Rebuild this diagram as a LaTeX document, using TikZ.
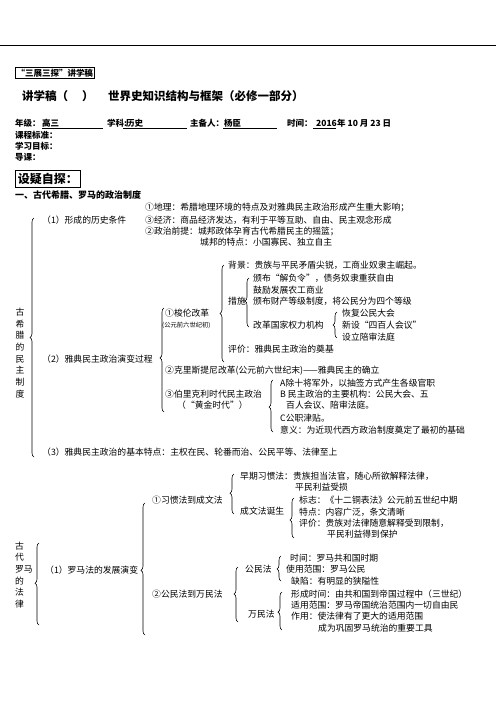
\documentclass[tikz,border=0pt]{standalone}
\usepackage{fontspec}
\setmainfont{Noto Sans CJK SC}
\usetikzlibrary{decorations.pathreplacing}

\newcommand\bodyf{\fontsize{8.8}{11.7}\selectfont}
\newcommand\smallf{\fontsize{6.3}{7}\selectfont}

\begin{document}
\begin{tikzpicture}
    [x=1pt,y=-1pt,%
      every node/.style={anchor=west,inner sep=0pt,font=\bodyf},%
      hd/.style={font=\fontsize{#1}{#1}\selectfont\bfseries},%
      lbrace/.style={decorate,decoration={brace,amplitude=4pt,aspect=#1},line width=0.6pt},%
      uline/.style={line width=0.5pt}]
    \fill[white] (0,0) rectangle (496,702);
    \useasboundingbox (0,0) rectangle (496,702);
    \draw[line width=0.8pt] (0,45) -- (496,45);

    % header
    \node[hd=8.5,draw,inner sep=1.2pt,line width=0.6pt] (tag) at (15,73) {“三展三探”讲学稿};
    \node[hd=11.5] (ttla) at (22,96) {讲学稿（};
    \node[hd=11.5] (ttlb) at (82,96) {）};
    \node[hd=11.5] (ttlc) at (108,96) {世界史知识结构与框架（必修一部分）};
    \node[hd=8.5] (grd) at (15,123) {年级：};
    \node[hd=8.5] (grdv) at (42,123) {高三};
    \node[hd=8.5] (subj) at (107,123) {学科:};
    \node[hd=8.5] (subjv) at (126,123) {历史};
    \node[hd=8.5] (auth) at (190,123) {主备人：};
    \node[hd=8.5] (authv) at (224,123) {杨臣};
    \node[hd=8.5] (date) at (287,123) {时间：};
    \node[hd=8.5] (yr) at (316,123) {2016};
    \node[hd=8.5] (ymd) at (337,123) {年 10 月 23 日};
    \draw[uline] (42,128) -- (103,128);
    \draw[uline] (123,128) -- (187,128);
    \draw[uline] (223,128) -- (277,128);
    \draw[uline] (313,128) -- (336,128);
    \node[hd=8.5] (std) at (15,135) {课程标准：};
    \node[hd=8.5] (goal) at (15,146) {学习目标：};
    \node[hd=8.5] (intro) at (15,157) {导课：};
    \node[hd=12,draw,inner sep=2.5pt,line width=0.7pt] (qbox) at (15,179) {设疑自探：};
    \node[hd=9] (sec) at (15,195) {一、古代希腊、罗马的政治制度};

    % greece
    \node[anchor=center,align=center] (grk) at (20,353) {古\\希\\腊\\的\\民\\主\\制\\度};
    \node (cnda) at (145,207) {①地理：希腊地理环境的特点及对雅典民主政治形成产生重大影响；};
    \node (cnd) at (42,220) {（1）形成的历史条件};
    \node (cndc) at (145,220) {③经济：商品经济发达，有利于平等互助、自由、民主观念形成};
    \node (cndb) at (145,231) {②政治前提：城邦政体孕育古代希腊民主的摇篮；};
    \node (cndbb) at (200,242) {城邦的特点：小国寡民、独立自主};
    \node (bg) at (228,265) {背景：贵族与平民矛盾尖锐，工商业奴隶主崛起。};
    \node (msa) at (253,278) {颁布“解负令”，债务奴隶重获自由};
    \node (msb) at (253,290) {鼓励发展农工商业};
    \node (msr) at (228,301) {措施};
    \node (msc) at (253,301) {颁布财产等级制度，将公民分为四个等级};
    \node (rfa) at (342,313) {恢复公民大会};
    \node (solon) at (165,313) {①梭伦改革};
    \node[font=\smallf] (solont) at (162,325) {(公元前六世纪初)};
    \node (msd) at (253,325) {改革国家权力机构};
    \node (rfb) at (342,325) {新设“四百人会议”};
    \node (rfc) at (342,337) {设立陪审法庭};
    \node (eval) at (228,349) {评价：雅典民主政治的奠基};
    \node (evo) at (42,359) {（2）雅典民主政治演变过程};
    \node (cleis) at (165,371) {②克里斯提尼改革(公元前六世纪末)——雅典民主的确立};
    \node (pa) at (280,383) {A除十将军外，以抽签方式产生各级官职};
    \node (peri) at (165,394) {③伯里克利时代民主政治};
    \node (pb) at (280,394) {B 民主政治的主要机构：公民大会、五};
    \node (perit) at (177,405) {（“黄金时代”）};
    \node (pbb) at (286,405) {百人会议、陪审法庭。};
    \node (pc) at (280,418) {C公职津贴。};
    \node (pm) at (280,430) {意义：为近现代西方政治制度奠定了最初的基础};
    \node (feat) at (42,452) {（3）雅典民主政治的基本特点：主权在民、轮番而治、公民平等、法律至上};

    % rome
    \node[align=left] (rom) at (15,575) {古\\代\\罗马\\的\\法\\律};
    \node (ea) at (240,476) {早期习惯法：贵族担当法官，随心所欲解释法律，};
    \node (eb) at (295,487) {平民利益受损};
    \node (cust) at (152,500) {①习惯法到成文法};
    \node (sa) at (299,500) {标志：《十二铜表法》公元前五世纪中期};
    \node (born) at (240,511) {成文法诞生};
    \node (sb) at (299,512) {特点：内容广泛，条文清晰};
    \node (sc) at (299,523) {评价：贵族对法律随意解释受到限制，};
    \node (scb) at (327,534) {平民利益得到保护};
    \node (ta) at (290,558) {时间：罗马共和国时期};
    \node (rdev) at (45,570) {（1）罗马法的发展演变};
    \node (civ) at (245,569) {公民法};
    \node (ua) at (286,569) {使用范围：罗马公民};
    \node (da) at (291,581) {缺陷：有明显的狭隘性};
    \node (fa) at (291,594) {形成时间：由共和国到帝国过程中（三世纪）};
    \node (civgen) at (152,594) {②公民法到万民法};
    \node (fb) at (291,605) {适用范围：罗马帝国统治范围内一切自由民};
    \node (gent) at (248,614) {万民法};
    \node (fc) at (291,616) {作用：使法律有了更大的适用范围};
    \node (fcb) at (318,628) {成为巩固罗马统治的重要工具};

    % braces
    \coordinate (gkt) at (34,218);  \coordinate (gkb) at (34,457);
    \coordinate (evt) at (164,308); \coordinate (evb) at (164,412);
    \coordinate (sot) at (224,265); \coordinate (sob) at (224,362);
    \coordinate (mst) at (249,278); \coordinate (msbb) at (249,327);
    \coordinate (rft) at (337,312); \coordinate (rfbb) at (337,338);
    \coordinate (pet) at (273,380); \coordinate (peb) at (273,432);
    \coordinate (rmt) at (39,543);  \coordinate (rmb) at (39,625);
    \coordinate (rdt) at (145,503); \coordinate (rdb) at (145,635);
    \coordinate (cut) at (234,474); \coordinate (cub) at (234,514);
    \coordinate (bnt) at (294,498); \coordinate (bnb) at (294,538);
    \coordinate (cvt) at (281,556); \coordinate (cvb) at (281,581);
    \coordinate (cgt) at (238,567); \coordinate (cgb) at (238,622);
    \coordinate (gnt) at (282,592); \coordinate (gnb) at (282,630);
    \draw[lbrace=0.5] (gkb) -- (gkt);
    \draw[lbrace=0.52] (evb) -- (evt);
    \draw[lbrace=0.5] (sob) -- (sot);
    \draw[lbrace=0.53] (msbb) -- (mst);
    \draw[lbrace=0.5] (rfbb) -- (rft);
    \draw[lbrace=0.48] (peb) -- (pet);
    \draw[lbrace=0.51] (rmb) -- (rmt);
    \draw[lbrace=0.49] (rdb) -- (rdt);
    \draw[lbrace=0.52] (cub) -- (cut);
    \draw[lbrace=0.45] (bnb) -- (bnt);
    \draw[lbrace=0.48] (cvb) -- (cvt);
    \draw[lbrace=0.51] (cgb) -- (cgt);
    \draw[lbrace=0.47] (gnb) -- (gnt);
\end{tikzpicture}
\end{document}
